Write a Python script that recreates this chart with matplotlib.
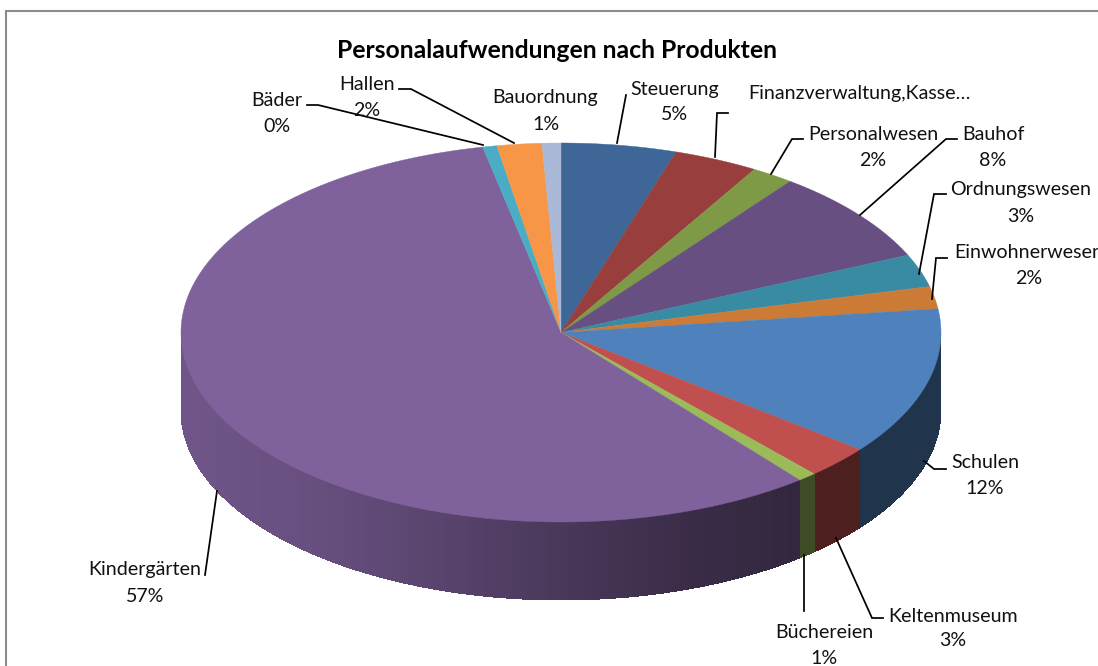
import numpy as np
import matplotlib
matplotlib.use("Agg")
import matplotlib.pyplot as plt
from matplotlib.patches import Polygon
from matplotlib.colors import to_rgb

# ---- data ----
categories = ["Steuerung", "Finanzverwaltung,Kasse…", "Personalwesen", "Bauhof", "Ordnungswesen",
              "Einwohnerwesen", "Schulen", "Keltenmuseum", "Büchereien", "Kindergärten",
              "Bäder", "Hallen", "Bauordnung"]
values = [4.9, 3.6, 1.8, 8.0, 2.8, 1.9, 12.6, 2.8, 0.8, 57.5, 0.6, 1.9, 0.8]
percent_labels = ["5%", "", "2%", "8%", "3%", "2%", "12%", "3%", "1%", "57%", "0%", "2%", "1%"]
top_colors = ["#3E6797", "#983F3D", "#7F9A47", "#674F82", "#388BA2", "#CB7B36", "#4F81BD",
              "#C0504D", "#9BBB59", "#7F619C", "#4BACC6", "#F79646", "#A9B8D7"]

# label layout: centre x, first line y, second line y
label_x = [675, 859, 873, 993, 1021, 1029, 985, 953, 824, 145, 277, 367, 545.5]
label_y1 = [90, 93, 134, 134, 190, 253, 463, 616, 633, 570, 100, 84, 98]
label_y2 = [115, 0, 161, 160, 216, 279, 489, 641, 658, 597, 127, 111, 124]
leaders = [
    [(617, 143), (626, 95)],
    [(715, 157), (717, 113), (728, 113)],
    [(771, 174), (792, 139), (803, 139)],
    [(860, 215), (946, 139), (957, 139)],
    [(919, 274), (934, 194), (946, 194)],
    [(932, 299), (936, 258), (947, 258)],
    [(924, 461), (934, 469), (946, 469)],
    [(836, 538), (872, 618), (883, 618)],
    [(804, 555), (804, 611)],
    [(217, 491), (205, 575)],
    [(483, 145), (318, 105), (307, 105)],
    [(514, 143), (411, 89), (399, 89)],
]

# ---- geometry (pixels) ----
W, H = 1098, 666
cx, cy, rx, ry, depth = 561, 332.5, 380, 189.5, 78
shade_x = [181, 300, 400, 500, 600, 700, 800, 941]
shade_v = [0.88, 0.82, 0.74, 0.64, 0.54, 0.45, 0.40, 0.40]

plt.rcParams['font.family'] = ['Lato', 'DejaVu Sans']
fig = plt.figure(figsize=(W / 100, H / 100), dpi=100)
ax = fig.add_axes([0, 0, 1, 1])
ax.set_xlim(0, W)
ax.set_ylim(H, 0)
ax.axis('off')

# frame
ax.plot([5.5, 5.5, W], [H, 11, 11], color="#8c8c8c", lw=1.5, solid_joinstyle='miter')

frac = np.cumsum([0] + values) / np.sum(values)
theta = frac * 2 * np.pi  # clockwise from top

def pt(t):
    return cx + rx * np.sin(t), cy - ry * np.cos(t)

# side faces
for i, col in enumerate(top_colors):
    t0, t1 = theta[i], theta[i + 1]
    lo, hi = max(t0, np.pi / 2), min(t1, 3 * np.pi / 2)
    if hi <= lo:
        continue
    n = max(2, int((hi - lo) * 100))
    ts = np.linspace(lo, hi, n + 1)
    rgb = np.array(to_rgb(col))
    for a, b in zip(ts[:-1], ts[1:]):
        xa, ya = pt(a)
        xb, yb = pt(b)
        s = np.interp((xa + xb) / 2, shade_x, shade_v)
        ax.add_patch(Polygon([(xa, ya), (xb, yb), (xb, yb + depth), (xa, ya + depth)],
                             closed=True, fc=tuple(rgb * s), ec='none', antialiased=False, zorder=2))

# top faces
for i, col in enumerate(top_colors):
    ts = np.linspace(theta[i], theta[i + 1], max(2, int(values[i] * 8)))
    xs, ys = pt(ts)
    verts = [(cx, cy)] + list(zip(xs, ys))
    ax.add_patch(Polygon(verts, closed=True, fc=col, ec=col, lw=0.3, zorder=3))

# leaders
for line in leaders:
    xs, ys = zip(*line)
    ax.plot(xs, ys, color="black", lw=1.25, zorder=4, solid_joinstyle='miter')

# labels
tc = "#111111"
fs = 14.1
for i, name in enumerate(categories):
    ax.text(label_x[i], label_y1[i], name, ha='center', va='center', fontsize=fs, color=tc, zorder=5)
    if percent_labels[i]:
        ax.text(label_x[i], label_y2[i], percent_labels[i], ha='center', va='center',
                fontsize=fs, color=tc, zorder=5)

ax.text(557, 50, "Personalaufwendungen nach Produkten", ha='center', va='center',
        fontsize=17.8, fontweight='bold', color='black', zorder=5)

fig.savefig("out.png", dpi=100)
